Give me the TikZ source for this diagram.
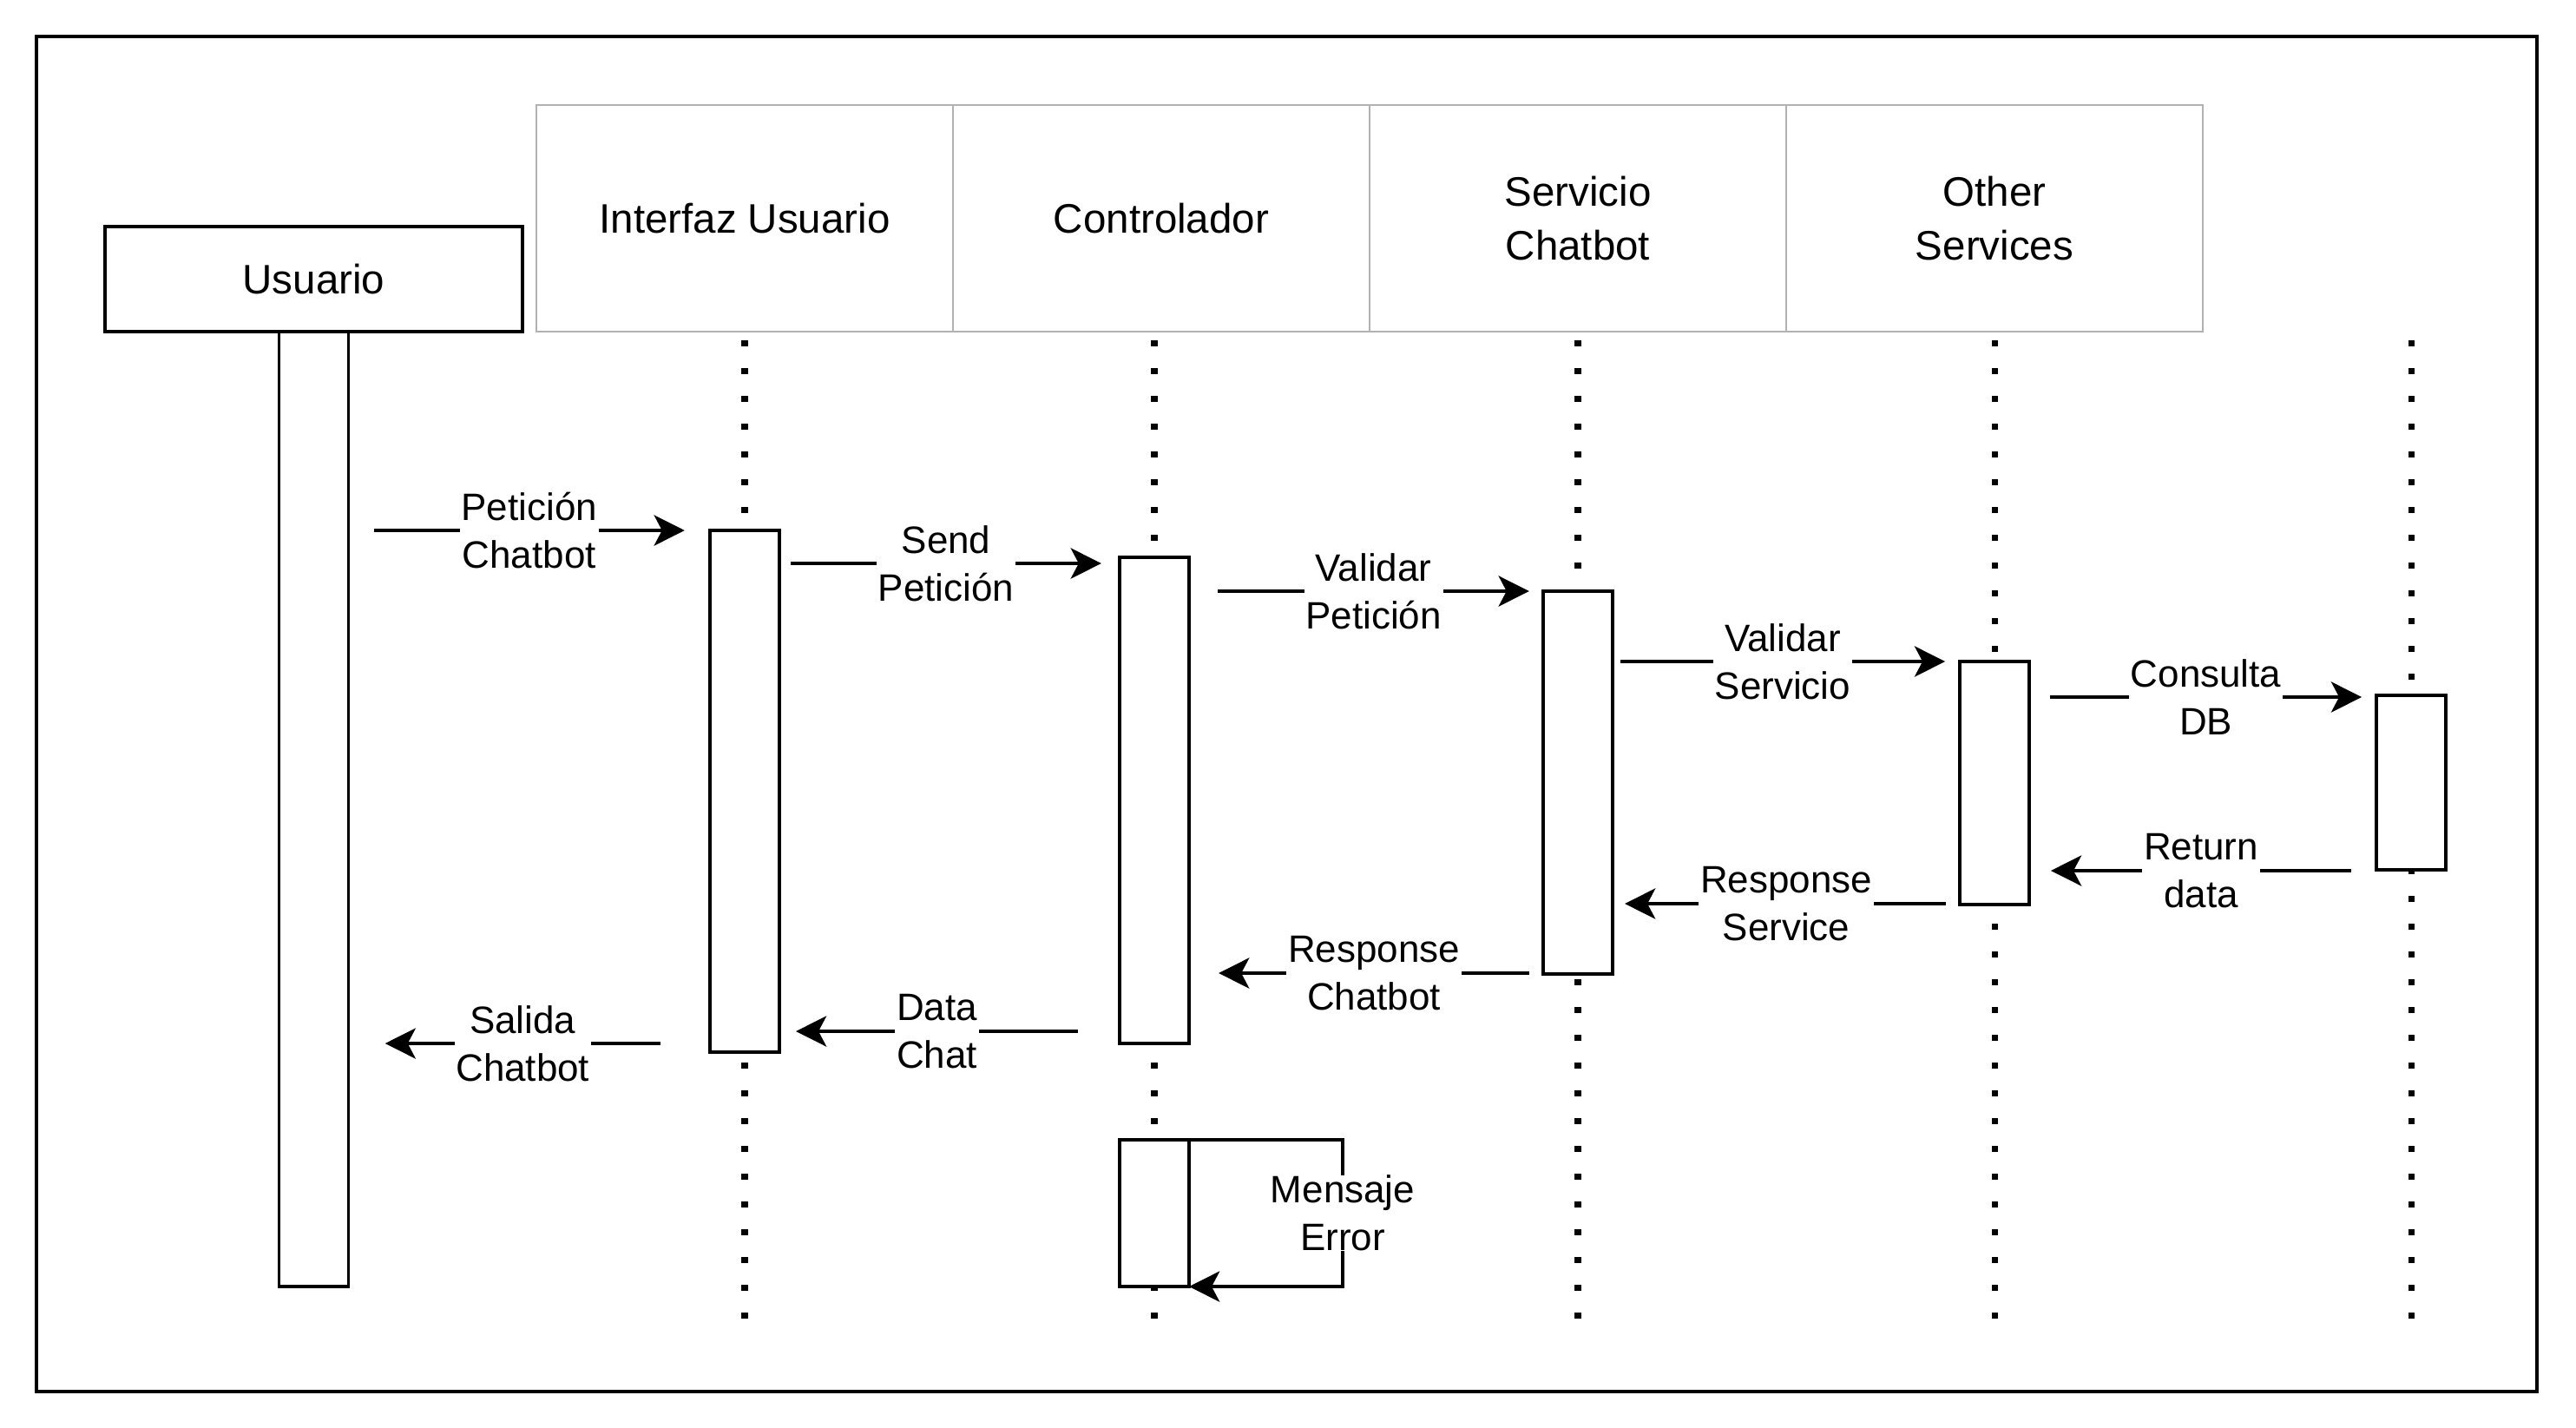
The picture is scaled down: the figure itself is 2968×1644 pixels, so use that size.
\documentclass[tikz,border=0pt]{standalone}
\usepackage{fontspec}
\setmainfont{Liberation Sans}
\usetikzlibrary{arrows.meta}
\tikzset{
  head/.style={draw=black!30, line width=0.6pt, minimum width=4.8cm, minimum height=2.61cm, inner sep=0pt, outer sep=0pt, align=center, font=\fontsize{13.5pt}{17.4pt}\selectfont},
  actor/.style={draw, line width=1.1pt, minimum width=4.81cm, minimum height=1.21cm, inner sep=0pt, outer sep=0pt, font=\fontsize{13.5pt}{17.4pt}\selectfont},
  bar/.style={draw, line width=1.1pt, fill=white, minimum width=0.8cm, inner sep=0pt, outer sep=0pt},
  life/.style={line width=2pt, dash pattern=on 2pt off 7.1pt},
  msg/.style={line width=1.1pt, -{Stealth[length=10pt, width=10pt, inset=2.6pt]}},
  lbl/.style={fill=white, inner xsep=0.5pt, inner ysep=0pt, align=center, font=\fontsize{12.5pt}{15.6pt}\selectfont},
  gap/.style 2 args={shorten <=#1, shorten >=#2}
}
\begin{document}
\begin{tikzpicture}[x=0.01cm, y=-0.01cm]
            \useasboundingbox (0,0) rectangle (2968,1644);
            \draw[line width=1.1pt] (42,42) rectangle (2923,1603);
            \foreach \x in {858,1330,1818,2298,2778}{
                \draw[life] (\x,392) -- (\x,1532);
            }
            \node[actor] (usr) at (361.5,321.5) {Usuario};
            \node[head] (ifz) at (858,251.5) {Interfaz Usuario};
            \node[head] (ctl) at (1338,251.5) {Controlador};
            \node[head] (svc) at (1818,251.5) {Servicio\\Chatbot};
            \node[head] (oth) at (2298,251.5) {Other\\Services};
            \node[bar, minimum height=11cm] (usrbar) at (361.5,932) {};
            \node[bar, minimum height=6.01cm] (ifzbar) at (858,911.5) {};
            \node[bar, minimum height=5.6cm] (ctlbar) at (1330,922) {};
            \node[bar, minimum height=4.41cm] (svcbar) at (1818,901.5) {};
            \node[bar, minimum height=2.8cm] (othbar) at (2298,902) {};
            \node[bar, minimum height=2.01cm] (dbbar) at (2778,901.5) {};
            \node[bar, minimum height=1.69cm] (errbar) at (1330,1397.5) {};
            \draw[msg, gap={8.3pt}{8.3pt}] (usrbar.east |- 0,611) -- node[lbl]{Petición\\Chatbot} (ifzbar.west |- 0,611);
            \draw[msg, gap={3.7pt}{6pt}] (ifzbar.east |- 0,649) -- node[lbl, pos=0.49]{Send\\Petición} (ctlbar.west |- 0,649);
            \draw[msg, gap={9.4pt}{4.6pt}] (ctlbar.east |- 0,681) -- node[lbl, pos=0.521]{Validar\\Petición} (svcbar.west |- 0,681);
            \draw[msg, gap={2.6pt}{4.8pt}] (svcbar.east |- 0,762) -- node[lbl, pos=0.49]{Validar\\Servicio} (othbar.west |- 0,762);
            \draw[msg, gap={6.8pt}{4.8pt}] (othbar.east |- 0,803) -- node[lbl, pos=0.509]{Consulta\\DB} (dbbar.west |- 0,803);
            \draw[msg, gap={8.3pt}{7.1pt}] (dbbar.west |- 0,1003) -- node[lbl, pos=0.505]{Return\\data} (othbar.east |- 0,1003);
            \draw[msg, gap={4.6pt}{4pt}] (othbar.west |- 0,1041) -- node[lbl]{Response\\Service} (svcbar.east |- 0,1041);
            \draw[msg, gap={4.6pt}{9.7pt}] (svcbar.west |- 0,1121) -- node[lbl, pos=0.478]{Response\\Chatbot} (ctlbar.east |- 0,1121);
            \draw[msg, gap={13.7pt}{5.4pt}] (ctlbar.west |- 0,1188) -- node[lbl, pos=0.537]{Data\\Chat} (ifzbar.east |- 0,1188);
            \draw[msg, gap={16.2pt}{12pt}] (ifzbar.west |- 0,1202) -- node[lbl, pos=0.518]{Salida\\Chatbot} (usrbar.east |- 0,1202);
            \draw[msg] (errbar.north east) -- ++(177,0) |- node[lbl, pos=0.25]{Mensaje\\Error} (errbar.south east);
\end{tikzpicture}
\end{document}
